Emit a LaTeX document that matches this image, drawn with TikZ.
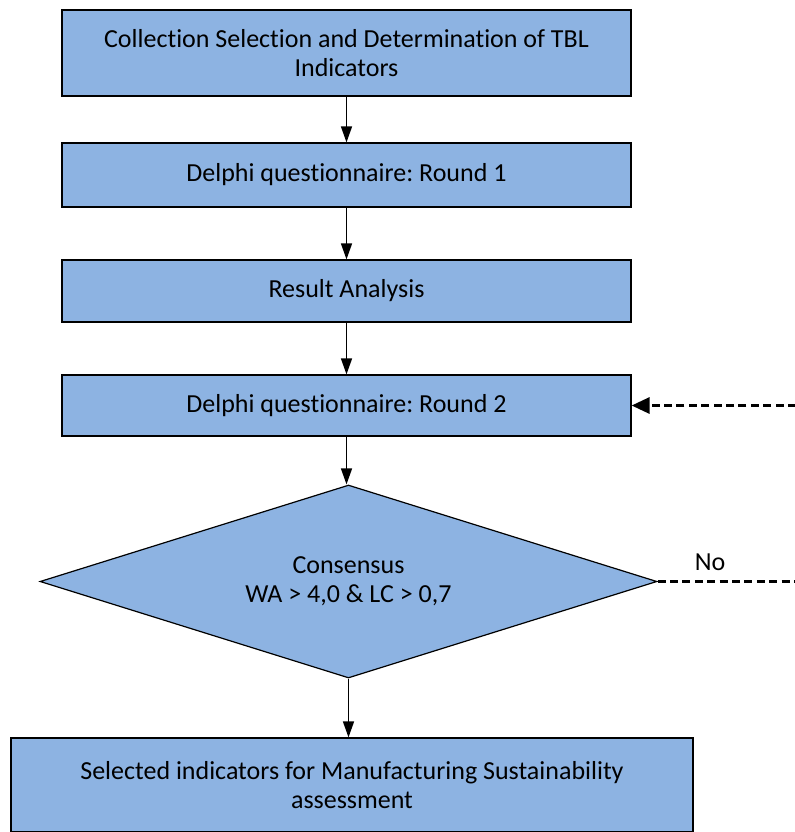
\documentclass[tikz,border=0pt]{standalone}
\usepackage{fontspec}
\setmainfont{Carlito}[Ligatures={NoCommon}]
\usepackage{tikz}
\usetikzlibrary{shapes.geometric,arrows.meta}
\definecolor{stepblue}{RGB}{141,179,226}
\tikzset{
  stepbox/.style={ draw, rectangle, fill=stepblue, line width=0.6pt, align=center, inner sep=0pt }
}
\tikzset{
  decision/.style={ draw, diamond, aspect=3.2, fill=stepblue, line width=0.6pt, align=center, inner sep=0pt }
}
\tikzset{
  flow/.style={ line width=0.7pt, -{Triangle[length=8pt, width=5.5pt]} }
}
\tikzset{
  loop/.style={ line width=1.5pt, dash pattern=on 4pt off 2.2pt }
}
\frenchspacing

\begin{document}
\begin{tikzpicture}[x=0.5pt, y=-0.5pt, font=\fontsize{13}{14.5}\selectfont]

      \useasboundingbox (0, 0) rectangle (795, 832);

      \node[stepbox, minimum width=284.5pt, minimum height=43pt] (collect) at (346.5, 53) {Collection Selection and Determination of TBL\\Indicators};
      \node[stepbox, minimum width=284.5pt, minimum height=32pt] (round1) at (346.5, 175) {Delphi questionnaire: Round 1};
      \node[stepbox, minimum width=284.5pt, minimum height=31pt] (analysis) at (346.5, 291) {Result Analysis};
      \node[stepbox, minimum width=284.5pt, minimum height=30.5pt] (round2) at (346.5, 405.5) {Delphi questionnaire: Round 2};
      \node[decision, minimum width=308.5pt, minimum height=96.5pt] (consensus) at (348.5, 581.5) {Consensus\\WA > 4,0 \& LC > 0,7};
      \node[stepbox, minimum width=341pt, minimum height=47pt] (selected) at (352, 785) {Selected indicators for Manufacturing Sustainability\\assessment};

      \coordinate (loopin) at (796, 405.5);
      \coordinate (loopout) at (796, 581.5);

      \draw[flow] (collect.south) -- (collect.south |- round1.north);
      \draw[flow] (round1.south) -- (round1.south |- analysis.north);
      \draw[flow] (analysis.south) -- (analysis.south |- round2.north);
      \draw[flow] (round2.south) -- (round2.south |- consensus.north);
      \draw[flow] (consensus.south) -- (consensus.south |- selected.north);

      \draw[loop] (consensus.east) -- node[pos=0.38, above=1.5pt] {No} (loopout);
      \draw[loop, -{Triangle[length=9pt, width=8pt]}] (loopin) -- (round2.east);
    \end{tikzpicture}
\end{document}
